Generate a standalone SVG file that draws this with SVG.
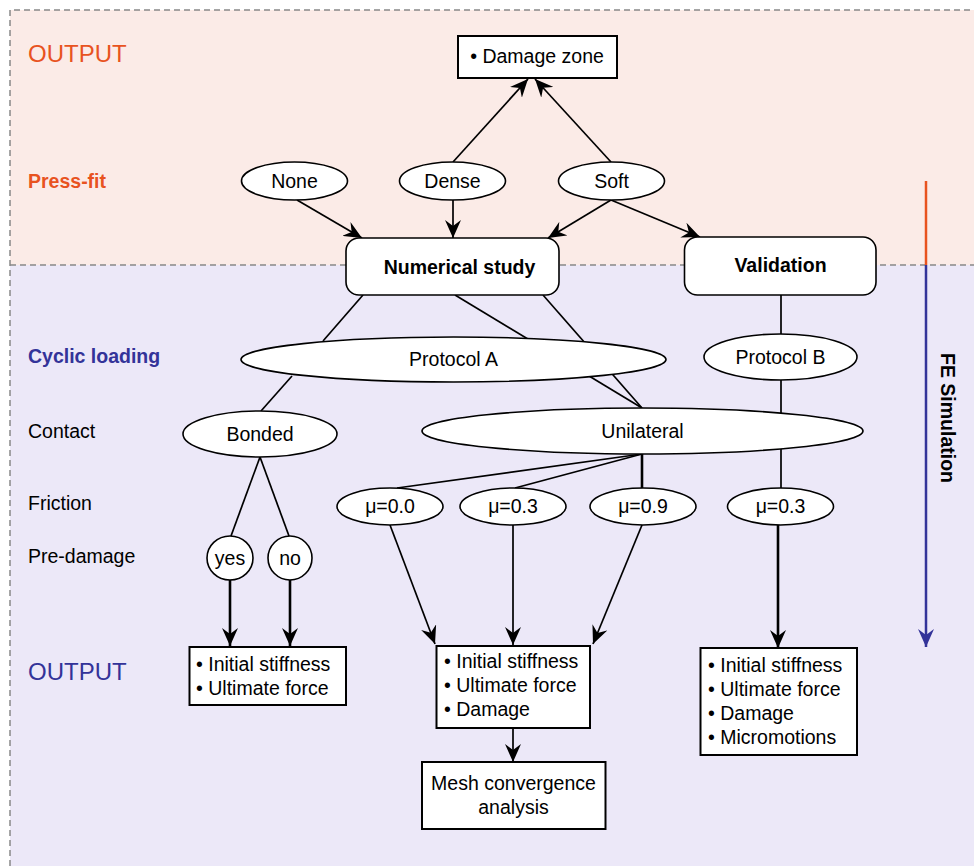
<svg xmlns="http://www.w3.org/2000/svg" width="974" height="866" viewBox="0 0 974 866">
<style>
text{font-family:"Liberation Sans",Arial,sans-serif;font-size:19.5px;fill:#000}
.c{text-anchor:middle}
.b{font-weight:bold}
.n{fill:#fff;stroke:#000;stroke-width:1.6}
.bx{fill:#fff;stroke:#000;stroke-width:2}
.e line,.e path{stroke:#000;stroke-width:1.7;fill:none}
.e .t{stroke-width:2.6}
.dash{stroke:#888;stroke-width:1.5;stroke-dasharray:6 4;fill:none}
</style>
<defs>
<marker id="ah" markerUnits="userSpaceOnUse" markerWidth="19" markerHeight="16" refX="18" refY="8" orient="auto" viewBox="0 0 19 16">
<path d="M0,0 L18,8 L0,16 L6,8 z" fill="#000"/>
</marker>
<marker id="ahb" markerUnits="userSpaceOnUse" markerWidth="19" markerHeight="16" refX="18" refY="8" orient="auto" viewBox="0 0 19 16">
<path d="M0,0 L18,8 L0,16 L6,8 z" fill="#333399"/>
</marker>
</defs>
<rect x="10" y="10" width="964" height="255" fill="#fbebe7"/>
<rect x="10" y="265" width="964" height="601" fill="#ece8f8"/>
<path class="dash" d="M10,866 V10 H974"/>
<path class="dash" d="M10,265 H974"/>
<text x="28" y="62" style="font-size:24px;fill:#e8531f">OUTPUT</text>
<text x="28" y="188" class="b" style="fill:#e8531f">Press-fit</text>
<text x="28" y="363" class="b" style="fill:#333399">Cyclic loading</text>
<text x="28" y="438">Contact</text>
<text x="28" y="510">Friction</text>
<text x="28" y="563">Pre-damage</text>
<text x="28" y="680" style="font-size:24px;fill:#333399">OUTPUT</text>
<line x1="926" y1="181" x2="926" y2="265" stroke="#e8531f" stroke-width="2.5"/>
<line x1="926" y1="265" x2="926" y2="647" stroke="#333399" stroke-width="2.5" marker-end="url(#ahb)"/>
<text class="c b" transform="translate(941,418) rotate(90)">FE Simulation</text>
<g id="connectors" class="e">
<line x1="453" y1="162" x2="528" y2="79" marker-end="url(#ah)"/>
<line x1="611" y1="162" x2="535" y2="79" marker-end="url(#ah)"/>
<line x1="297" y1="200" x2="362" y2="238" marker-end="url(#ah)"/>
<line x1="453" y1="200" x2="453" y2="238" marker-end="url(#ah)"/>
<line x1="611" y1="200" x2="548" y2="238" marker-end="url(#ah)"/>
<line x1="611" y1="200" x2="700" y2="237" marker-end="url(#ah)"/>
<line x1="363" y1="295" x2="323" y2="341"/>
<line x1="455" y1="295" x2="642" y2="408"/>
<line x1="543" y1="295" x2="642" y2="408"/>
<line x1="781" y1="295" x2="781" y2="488"/>
<line x1="292" y1="376" x2="261" y2="411"/>
<line x1="260" y1="457" x2="231" y2="536"/>
<line x1="260" y1="457" x2="289" y2="536"/>
<line x1="642" y1="454" x2="397" y2="488"/>
<line x1="642" y1="454" x2="515" y2="488"/>
<line class="t" x1="642" y1="454" x2="642" y2="488"/>
<line class="t" x1="230" y1="580" x2="230" y2="646" marker-end="url(#ah)"/>
<line class="t" x1="290" y1="580" x2="290" y2="646" marker-end="url(#ah)"/>
<line x1="390" y1="525" x2="435" y2="644" marker-end="url(#ah)"/>
<line x1="513" y1="525" x2="513" y2="645" marker-end="url(#ah)"/>
<line x1="642" y1="525" x2="593" y2="644" marker-end="url(#ah)"/>
<line class="t" x1="778" y1="525" x2="778" y2="648" marker-end="url(#ah)"/>
<line x1="513" y1="728" x2="513" y2="762" marker-end="url(#ah)"/>
</g>
<g id="damage-zone"><rect class="bx" x="458" y="36" width="159" height="42"/><text x="537" y="63" class="c">• Damage zone</text></g>
<g id="none"><ellipse class="n" cx="294.5" cy="181" rx="53" ry="19"/><text x="294.5" y="188" class="c">None</text></g>
<g id="dense"><ellipse class="n" cx="452.5" cy="181" rx="53" ry="19"/><text x="452.5" y="188" class="c">Dense</text></g>
<g id="soft"><ellipse class="n" cx="611.5" cy="181" rx="53" ry="19"/><text x="611.5" y="188" class="c">Soft</text></g>
<g id="numerical-study"><rect class="n" x="346" y="238" width="213" height="57" rx="13"/><text x="459.5" y="274" class="c b">Numerical study</text></g>
<g id="validation"><rect class="n" x="684.5" y="237" width="191.5" height="58" rx="13"/><text x="780.5" y="272" class="c b">Validation</text></g>
<g id="protocol-a"><ellipse class="n" cx="453.5" cy="359.5" rx="212.5" ry="22.5"/><text x="453.5" y="366" class="c">Protocol A</text></g>
<g id="protocol-b"><ellipse class="n" cx="780.5" cy="357" rx="76.5" ry="23"/><text x="780.5" y="364" class="c">Protocol B</text></g>
<g id="bonded"><ellipse class="n" cx="260" cy="434" rx="77" ry="23"/><text x="260" y="441" class="c">Bonded</text></g>
<g id="unilateral"><ellipse class="n" cx="642.5" cy="431" rx="220.5" ry="23"/><text x="642.5" y="438" class="c">Unilateral</text></g>
<g id="mu00"><ellipse class="n" cx="390" cy="506.5" rx="53" ry="18.5"/><text x="390" y="513" class="c">μ=0.0</text></g>
<g id="mu03"><ellipse class="n" cx="513" cy="506.5" rx="53" ry="18.5"/><text x="513" y="513" class="c">μ=0.3</text></g>
<g id="mu09"><ellipse class="n" cx="643" cy="506.5" rx="53" ry="18.5"/><text x="643" y="513" class="c">μ=0.9</text></g>
<g id="mu03b"><ellipse class="n" cx="780.5" cy="506.5" rx="53" ry="18.5"/><text x="780.5" y="513" class="c">μ=0.3</text></g>
<g id="yes"><ellipse class="n" cx="230" cy="558" rx="23" ry="22"/><text x="230" y="565" class="c">yes</text></g>
<g id="no"><ellipse class="n" cx="290" cy="558" rx="22" ry="22"/><text x="290" y="565" class="c">no</text></g>
<g id="out-bonded"><rect class="bx" x="189.5" y="647" width="156.5" height="58"/><text x="196" y="671">• Initial stiffness</text><text x="196" y="695">• Ultimate force</text></g>
<g id="out-unilateral"><rect class="bx" x="436.5" y="646" width="153.5" height="82"/><text x="444" y="668">• Initial stiffness</text><text x="444" y="692">• Ultimate force</text><text x="444" y="716">• Damage</text></g>
<g id="out-validation"><rect class="bx" x="700.5" y="648" width="156.5" height="107"/><text x="708" y="672">• Initial stiffness</text><text x="708" y="696">• Ultimate force</text><text x="708" y="720">• Damage</text><text x="708" y="744">• Micromotions</text></g>
<g id="mesh"><rect class="bx" x="422" y="762" width="183.5" height="67"/><text x="513.5" y="790" class="c">Mesh convergence</text><text x="513.5" y="814" class="c">analysis</text></g>
</svg>
